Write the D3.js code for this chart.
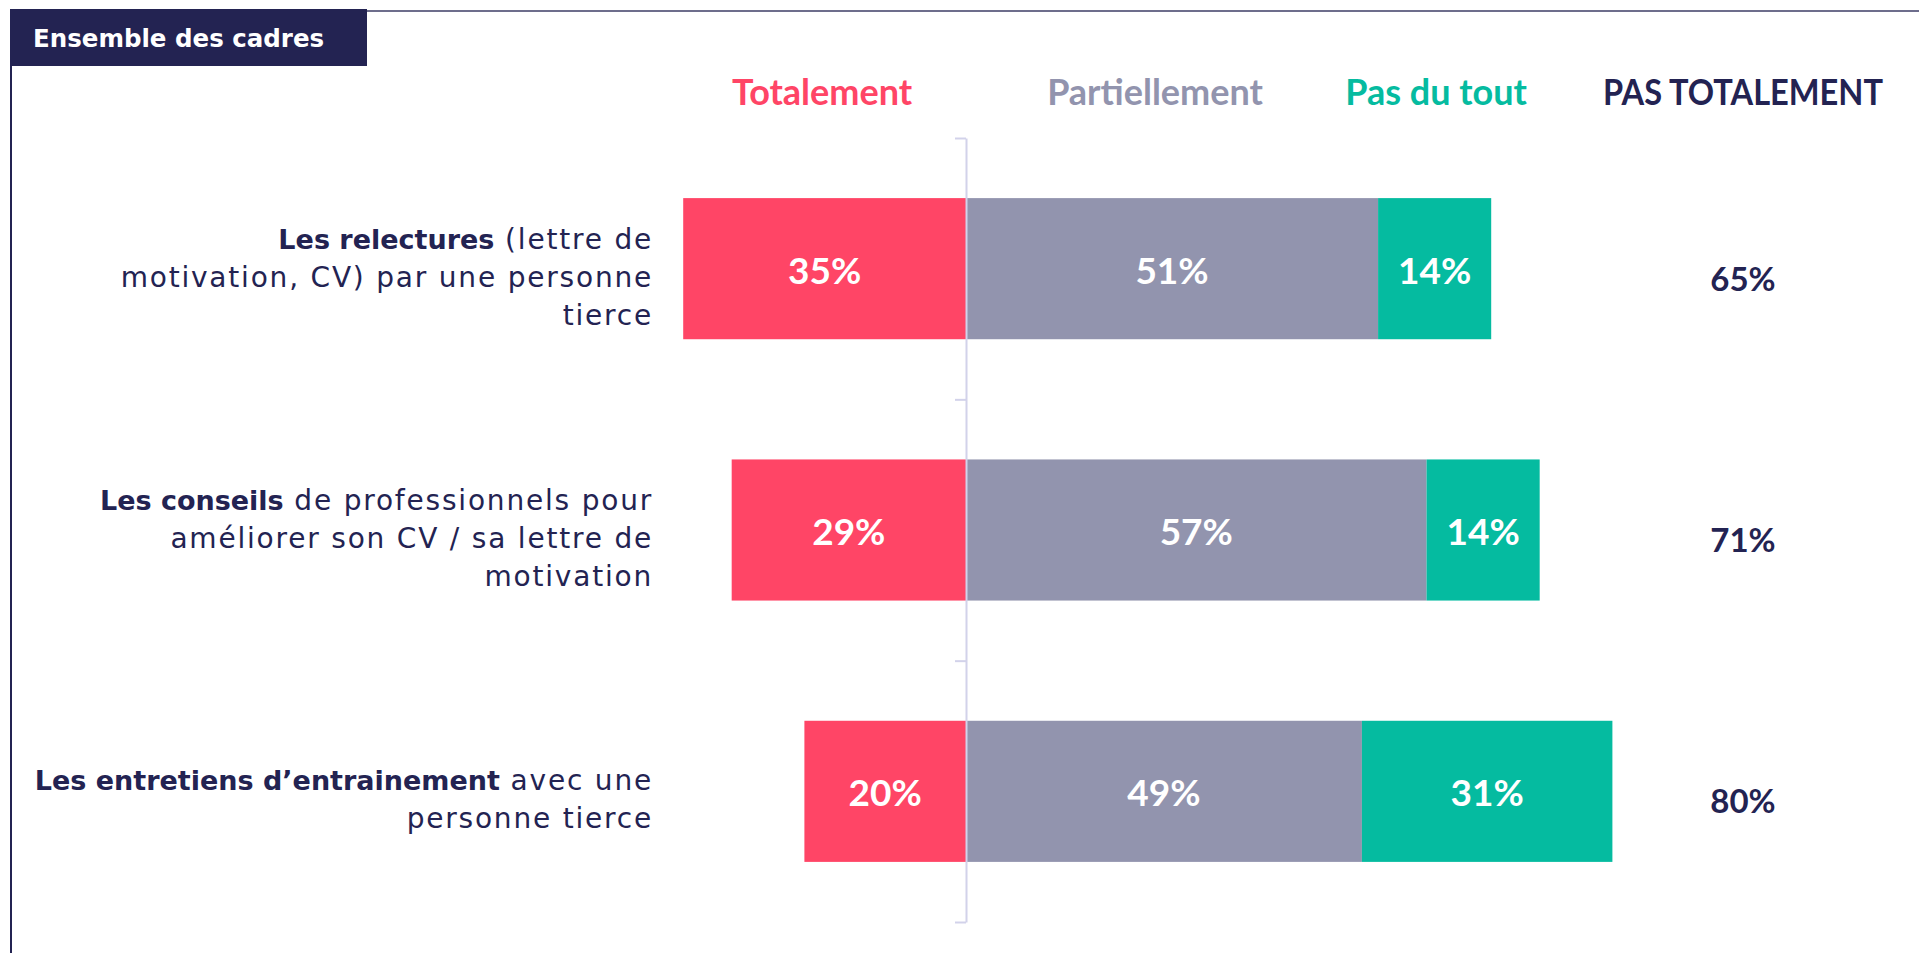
<!DOCTYPE html>
<html>
<head>
<meta charset="utf-8">
<script src="https://cdn.jsdelivr.net/npm/d3@7"></script>
<style>
  html, body { margin: 0; padding: 0; background: #fff; }
  #chart { width: 1919px; height: 953px; }
</style>
</head>
<body>
<div id="chart"></div>
<script>
// data
var categories = ["relectures", "conseils", "entretiens"];
var labelLines = [
    ["**Les relectures** (lettre de", "motivation, CV) par une personne", "tierce"],
    ["**Les conseils** de professionnels pour", "améliorer son CV / sa lettre de", "motivation"],
    ["**Les entretiens d’entrainement** avec une", "personne tierce"]
];
var totalement = [35, 29, 20];
var partiellement = [51, 57, 49];
var pasDuTout = [14, 14, 31];
var pasTotalement = [65, 71, 80];
var headers = ["Totalement", "Partiellement", "Pas du tout", "PAS TOTALEMENT"];
var title = "Ensemble des cadres";

function init() {
    var container = d3.select("#chart");
    var w = parseInt(container.style("width"));
    var h = parseInt(container.style("height"));

    var navy = "#232352", red = "#ff4566", grey = "#9294ae", green = "#05bba0";

    var svg = container.append("svg")
                .attr("width", w)
                .attr("height", h);

    // frame : top line + left line
    svg.append("line")
        .attr("x1", 360).attr("x2", w).attr("y1", 11).attr("y2", 11)
        .attr("stroke", "#3d3d66").attr("stroke-width", 1.5);
    svg.append("line")
        .attr("x1", 11).attr("x2", 11).attr("y1", 11).attr("y2", h)
        .attr("stroke", navy).attr("stroke-width", 2);

    // title box
    svg.append("rect")
        .attr("x", 10).attr("y", 9).attr("width", 357).attr("height", 57)
        .attr("fill", navy);
    svg.append("text")
        .attr("x", 33).attr("y", 47)
        .attr("fill", "#fff")
        .style("font-family", "DejaVu Sans")
        .style("font-weight", "bold")
        .style("font-size", "24.5px")
        .text(title);

    // scales
    var x = d3.scaleLinear().domain([0, 100]).range([966, 966 + 808]);
    var y = d3.scaleBand().domain(categories).range([138, 922])
                .paddingInner(0.46).paddingOuter(0.23);
    var yEdge = d3.scaleLinear().domain([0, categories.length]).range([138, 922]);

    var rows = categories.map(function(c, i) {
        return {cat: c, t: totalement[i], p: partiellement[i], n: pasDuTout[i], pt: pasTotalement[i], lines: labelLines[i]};
    });

    // segments
    var segs = [];
    rows.forEach(function(r) {
        segs.push({cat: r.cat, x0: -r.t, x1: 0, v: r.t, color: red});
        segs.push({cat: r.cat, x0: 0, x1: r.p, v: r.p, color: grey});
        segs.push({cat: r.cat, x0: r.p, x1: r.p + r.n, v: r.n, color: green});
    });

    var font = "Lato";

    svg.selectAll("rect.seg")
        .data(segs)
        .enter()
        .append("rect")
        .attr("class", "seg")
        .attr("x", function(d) { return x(d.x0); })
        .attr("width", function(d) { return x(d.x1) - x(d.x0); })
        .attr("y", function(d) { return y(d.cat); })
        .attr("height", y.bandwidth())
        .attr("fill", function(d) { return d.color; });

    svg.selectAll("text.val")
        .data(segs)
        .enter()
        .append("text")
        .attr("class", "val")
        .attr("x", function(d) { return (x(d.x0) + x(d.x1)) / 2; })
        .attr("y", function(d) { return y(d.cat) + y.bandwidth() / 2 + 15; })
        .attr("text-anchor", "middle")
        .attr("fill", "#fff")
        .style("font-family", font)
        .style("font-weight", "bold")
        .style("font-size", "37px")
        .text(function(d) { return d.v + "%"; });

    // axis at zero, ticks on band edges
    var axis = svg.append("g")
        .attr("transform", "translate(" + x(0) + ",0)")
        .call(d3.axisLeft(yEdge).tickValues(d3.range(categories.length + 1))
                .tickSize(11).tickSizeOuter(0).tickFormat(""));
    axis.selectAll("path, line").attr("stroke", "#d2d2ea").attr("stroke-width", 2);

    // PAS TOTALEMENT column
    svg.selectAll("text.pt")
        .data(rows)
        .enter()
        .append("text")
        .attr("class", "pt")
        .attr("x", 1743)
        .attr("y", function(d) { return y(d.cat) + y.bandwidth() / 2 + 22; })
        .attr("text-anchor", "middle")
        .attr("fill", navy)
        .style("font-family", font)
        .style("font-weight", "bold")
        .style("font-size", "33px")
        .text(function(d) { return d.pt + "%"; });

    // headers
    var headerX = [822, 1155, 1436, 1743];
    var headerColor = [red, grey, green, navy];
    svg.selectAll("text.head")
        .data(headers)
        .enter()
        .append("text")
        .attr("class", "head")
        .attr("x", function(d, i) { return headerX[i]; })
        .attr("y", 105)
        .attr("text-anchor", "middle")
        .attr("fill", function(d, i) { return headerColor[i]; })
        .style("font-family", font)
        .style("font-weight", "bold")
        .style("font-size", "36px")
        .text(function(d) { return d; })
        .filter(function(d, i) { return i === 3; })
        .attr("textLength", 280)
        .attr("lengthAdjust", "spacingAndGlyphs");

    // category labels, right aligned, with bold part
    var lineH = 38;
    rows.forEach(function(r) {
        var n = r.lines.length;
        var cy = y(r.cat) + y.bandwidth() / 2 + 18;
        r.lines.forEach(function(line, i) {
            var t = svg.append("text")
                .attr("x", 653)
                .attr("y", cy + (i - (n - 1) / 2) * lineH)
                .attr("text-anchor", "end")
                .attr("fill", navy)
                .style("font-family", "DejaVu Sans");
            var parts = line.split("**");
            parts.forEach(function(p, k) {
                if (p === "") return;
                var bold = k % 2 === 1;
                t.append("tspan")
                    .style("font-weight", bold ? "bold" : "normal")
                    .style("font-size", bold ? "27px" : "28px")
                    .style("letter-spacing", bold ? "0px" : "1.8px")
                    .text(p);
            });
        });
    });
}

window.onload = init;
</script>
</body>
</html>
